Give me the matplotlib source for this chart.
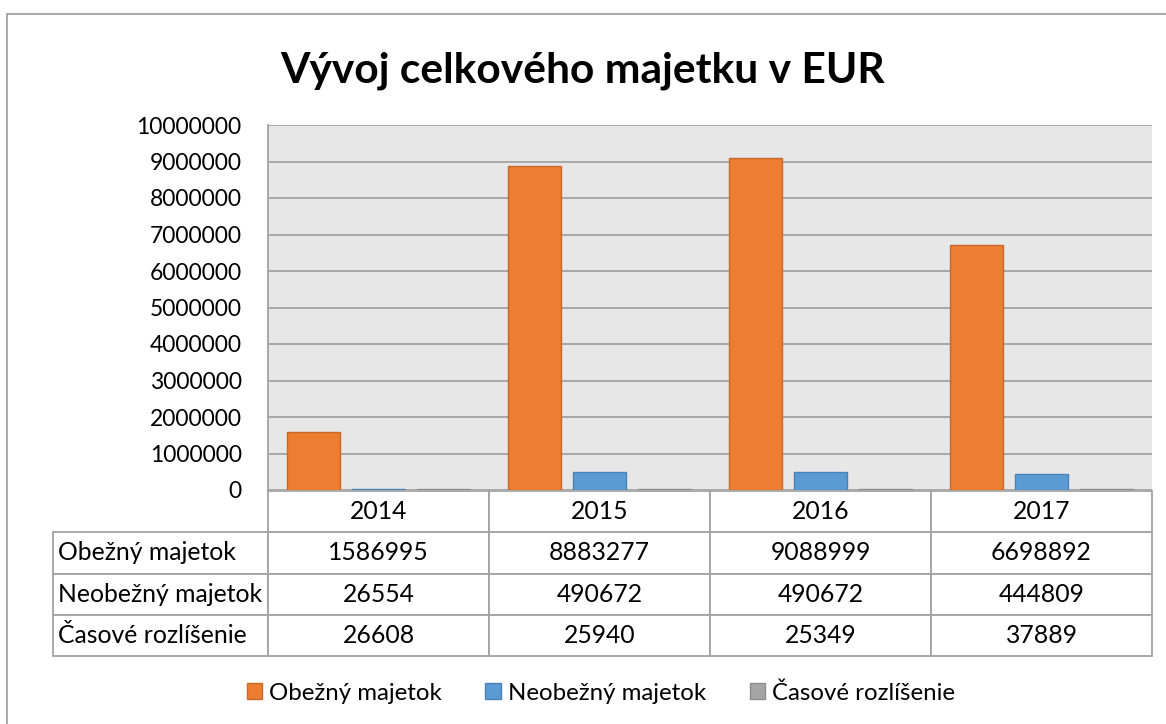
import matplotlib.pyplot as plt
from matplotlib.table import Table
from matplotlib.patches import Rectangle
import numpy as np

years = ["2014", "2015", "2016", "2017"]
series_names = ["Obežný majetok", "Neobežný majetok", "Časové rozlíšenie"]
obezny = [1586995, 8883277, 9088999, 6698892]
neobezny = [26554, 490672, 490672, 444809]
casove = [26608, 25940, 25349, 37889]
y_ticks = list(range(0, 10000001, 1000000))

colors = ["#ED7D31", "#5B9BD5", "#A5A5A5"]
edges = ["#C8672A", "#4A82B6", "#8C8C8C"]

plt.rcParams['font.family'] = ['Lato', 'DejaVu Sans']

W, H = 1166, 724
fig = plt.figure(figsize=(W / 100, H / 100), dpi=100)

# outer chart frame
fig.patches.append(Rectangle((7 / W, -0.01), 1.1, 1 - 14 / H + 0.01, transform=fig.transFigure,
                             fill=False, edgecolor="#9A9A9A", linewidth=1.2))

left, right, top, bottom = 268, 1152, 125, 490
ax = fig.add_axes([left / W, 1 - bottom / H, (right - left) / W, (bottom - top) / H])
ax.set_facecolor("#E7E7E7")

x = np.arange(len(years))
bw = 0.24
step = 0.294
for i, vals in enumerate([obezny, neobezny, casove]):
    ax.bar(x + (i - 1) * step, vals, width=bw, color=colors[i], edgecolor=edges[i],
           linewidth=1, label=series_names[i], zorder=3)

ax.set_xlim(-0.5, len(years) - 0.5)
ax.set_ylim(0, 10000000)
ax.set_yticks(y_ticks)
ax.set_yticklabels([str(v) for v in y_ticks])
ax.tick_params(axis='y', length=0, pad=19, labelsize=16.5)
ax.set_xticks([])
ax.grid(axis='y', color="#A3A3A3", linewidth=1.3, zorder=1)
for s in ["top", "right", "bottom"]:
    ax.spines[s].set_visible(False)
ax.spines["left"].set_color("#A3A3A3")
ax.spines["left"].set_linewidth(1.3)

# data table below the plot
tab_left, tab_top, tab_bottom = 53, 491, 656
pw, ph = right - left, bottom - top
tbl = Table(ax, bbox=[(tab_left - left) / pw, -(tab_bottom - bottom) / ph,
                      (right - tab_left) / pw, (tab_bottom - tab_top) / ph])
label_w = (left - tab_left) / pw
col_w = 1 / len(years) * (right - left) / pw
rh = 1
for j, yr in enumerate(years):
    c = tbl.add_cell(0, j + 1, width=col_w, height=rh, text=yr, loc='center')
rows = [obezny, neobezny, casove]
for i, (name, vals) in enumerate(zip(series_names, rows)):
    c = tbl.add_cell(i + 1, 0, width=label_w, height=rh, text=name, loc='left')
    c.PAD = 0.025
    for j, v in enumerate(vals):
        tbl.add_cell(i + 1, j + 1, width=col_w, height=rh, text=str(v), loc='center')
tbl.auto_set_font_size(False)
for cell in tbl.get_celld().values():
    cell.set_edgecolor("#A3A3A3")
    cell.set_linewidth(1.3)
    cell.get_text().set_fontsize(17.8)
ax.add_table(tbl)

fig.text(0.5, 1 - 71 / H, "Vývoj celkového majetku v EUR", ha='center', va='center',
         fontsize=30.6, fontweight='bold')

fig.legend(loc='center', bbox_to_anchor=(601 / W, 1 - 693 / H), ncol=3, frameon=False,
           fontsize=17.3, handlelength=0.65, handleheight=0.65, handletextpad=0.3,
           columnspacing=1.8)

fig.savefig("out.png", dpi=100)
